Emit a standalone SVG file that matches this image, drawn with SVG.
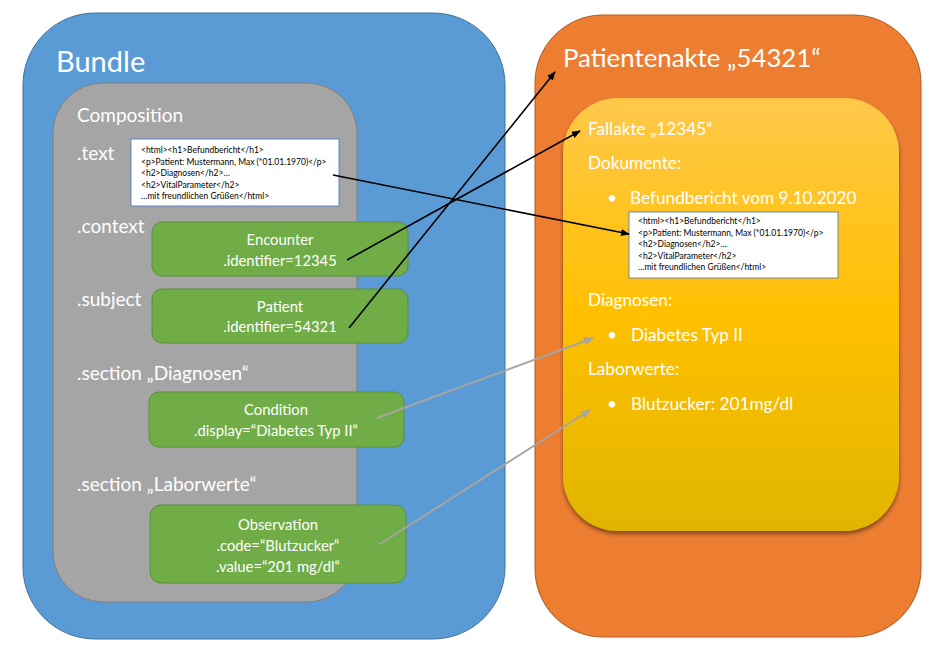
<svg xmlns="http://www.w3.org/2000/svg" width="945" height="646" viewBox="0 0 945 646">
<defs>
<linearGradient id="yel" x1="0" y1="0" x2="0" y2="1">
<stop offset="0" stop-color="#FFC84A"/>
<stop offset="0.5" stop-color="#FFC000"/>
<stop offset="1" stop-color="#E0B500"/>
</linearGradient>
<filter id="sh" x="-10%" y="-10%" width="120%" height="125%">
<feDropShadow dx="0" dy="3" stdDeviation="2" flood-color="#000" flood-opacity="0.45"/>
</filter>
<marker id="ab" viewBox="0 0 10 10" refX="9" refY="5" markerWidth="9" markerHeight="9" markerUnits="userSpaceOnUse" orient="auto">
<path d="M0,1 L10,5 L0,9 z" fill="#000"/>
</marker>
<marker id="ag" viewBox="0 0 10 10" refX="9" refY="5" markerWidth="10" markerHeight="10" markerUnits="userSpaceOnUse" orient="auto">
<path d="M0,1 L10,5 L0,9 z" fill="#A5A5A5"/>
</marker>
</defs>
<style>
text{font-family:Lato,"Open Sans","Liberation Sans",sans-serif;fill:#fff}
.green{fill:#70AD47;stroke:#5A8E38;stroke-width:1}
.gt{font-size:14.8px;text-anchor:middle}
.lbl{font-size:19px}
.ot{font-size:17.2px}
.html rect{fill:#fff;stroke:#4472C4;stroke-width:0.8}
.html text{fill:#000;font-size:8.5px}
.blk{stroke:#000;stroke-width:1.6;fill:none;marker-end:url(#ab)}
.gry{stroke:#A5A5A5;stroke-width:2;fill:none;marker-end:url(#ag)}
</style>

<g id="bundle">
<rect x="23" y="13" width="482" height="626" rx="72" ry="72" fill="#5B9BD5" stroke="#41719C" stroke-width="1"/>
<text x="56" y="72" font-size="29">Bundle</text>
</g>

<g id="composition">
<rect x="53" y="83" width="304" height="519" rx="50" ry="50" fill="#A5A5A5" stroke="#7F7F7F" stroke-width="1"/>
<text class="lbl" x="77" y="122">Composition</text>
<text class="lbl" x="77" y="160">.text</text>
<text class="lbl" x="77" y="233">.context</text>
<text class="lbl" x="77" y="306">.subject</text>
<text class="lbl" x="77" y="380">.section „Diagnosen“</text>
<text class="lbl" x="77" y="491">.section „Laborwerte“</text>
</g>

<g id="html-left" class="html">
<rect x="131" y="139" width="208" height="67"/>
<text x="141" y="153">&lt;html&gt;&lt;h1&gt;Befundbericht&lt;/h1&gt;</text>
<text x="141" y="164.5">&lt;p&gt;Patient: Mustermann, Max (*01.01.1970)&lt;/p&gt;</text>
<text x="141" y="176">&lt;h2&gt;Diagnosen&lt;/h2&gt;…</text>
<text x="141" y="187.5">&lt;h2&gt;VitalParameter&lt;/h2&gt;</text>
<text x="141" y="199">…mit freundlichen Grüßen&lt;/html&gt;</text>
</g>

<g id="encounter">
<rect class="green" x="152" y="222" width="256" height="54" rx="10" ry="10"/>
<text class="gt" x="280" y="245">Encounter</text>
<text class="gt" x="280" y="266">.identifier=12345</text>
</g>

<g id="patient">
<rect class="green" x="152" y="289" width="256" height="54" rx="10" ry="10"/>
<text class="gt" x="280" y="312">Patient</text>
<text class="gt" x="280" y="332">.identifier=54321</text>
</g>

<g id="condition">
<rect class="green" x="149" y="392" width="255" height="55" rx="10" ry="10"/>
<text class="gt" x="276" y="415">Condition</text>
<text class="gt" x="276" y="436">.display=“Diabetes Typ II“</text>
</g>

<g id="observation">
<rect class="green" x="150" y="505" width="256" height="78" rx="11" ry="11"/>
<text class="gt" x="278" y="530">Observation</text>
<text class="gt" x="278" y="551">.code=“Blutzucker“</text>
<text class="gt" x="278" y="572">.value=“201 mg/dl“</text>
</g>

<g id="patientenakte">
<rect x="535" y="15" width="386" height="622" rx="68" ry="68" fill="#ED7D31" stroke="#AE5A21" stroke-width="1"/>
<text x="563" y="67" font-size="25.8">Patientenakte „54321“</text>
</g>

<g id="fallakte">
<rect x="563" y="98" width="336" height="433" rx="55" ry="55" fill="url(#yel)" filter="url(#sh)"/>
<text class="ot" x="588" y="135">Fallakte „12345“</text>
<text class="ot" x="588" y="169">Dokumente:</text>
<text class="ot" x="607" y="204">•</text>
<text class="ot" x="630" y="204">Befundbericht vom 9.10.2020</text>
<text class="ot" x="588" y="306">Diagnosen:</text>
<text class="ot" x="607" y="341">•</text>
<text class="ot" x="631" y="341">Diabetes Typ II</text>
<text class="ot" x="588" y="375">Laborwerte:</text>
<text class="ot" x="607" y="410">•</text>
<text class="ot" x="631" y="410">Blutzucker: 201mg/dl</text>
</g>

<g id="html-right" class="html">
<rect x="629" y="212" width="209" height="66"/>
<text x="638" y="224">&lt;html&gt;&lt;h1&gt;Befundbericht&lt;/h1&gt;</text>
<text x="638" y="235.5">&lt;p&gt;Patient: Mustermann, Max (*01.01.1970)&lt;/p&gt;</text>
<text x="638" y="247">&lt;h2&gt;Diagnosen&lt;/h2&gt;…</text>
<text x="638" y="258.5">&lt;h2&gt;VitalParameter&lt;/h2&gt;</text>
<text x="638" y="270">…mit freundlichen Grüßen&lt;/html&gt;</text>
</g>

<g id="connectors">
<line class="blk" x1="333" y1="175" x2="629" y2="234"/>
<line class="blk" x1="347" y1="260" x2="580" y2="131"/>
<line class="blk" x1="349" y1="328" x2="555" y2="72"/>
<line class="gry" x1="377" y1="418" x2="593" y2="338"/>
<line class="gry" x1="380" y1="544" x2="590" y2="410"/>
</g>
</svg>
